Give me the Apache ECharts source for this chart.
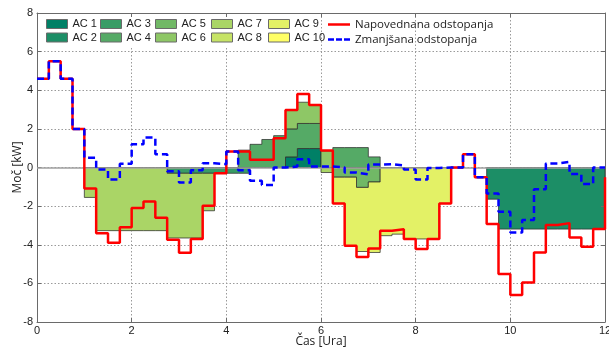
<!DOCTYPE html>
<html>
<head>
<meta charset="utf-8">
<script src="https://cdn.jsdelivr.net/npm/echarts@6/dist/echarts.min.js"></script>
<style>html,body{margin:0;padding:0;background:#fff}#c{width:609px;height:348px}</style>
</head>
<body>
<div id="c"></div>
<script>
// ---------- DATA ----------
const stepHours = 0.25;                 // one value per quarter hour
const xTickValues = [0, 2, 4, 6, 8, 10, 12];
const yTickValues = [-8, -6, -4, -2, 0, 2, 4, 6, 8];

// Napovednana odstopanja (kW) per quarter hour, last value = end at 12 h
const napovedana = [
  4.6, 5.5, 4.6, 2.0,   -1.09, -3.4, -3.9, -3.1,   -2.1, -1.76, -2.6, -3.74,
  -4.41, -3.7, -1.98, -0.3,   0.83, 0.83, 0.40, 0.40,   1.52, 2.98, 3.8, 3.23,
  0.88, -1.86, -4.05, -4.64,   -4.2, -3.27, -3.2, -3.7,   -4.22, -3.7, -1.86, 0.0,
  0.68, -0.5, -2.93, -5.52,   -6.6, -5.95, -4.4, -2.98,   -2.88, -3.62, -4.1, -3.19,
  -0.5
];
// Zmanjšana odstopanja (kW)
const zmanjsana = [
  4.6, 5.5, 4.6, 2.0,   0.5, -0.1, -0.62, 0.2,   1.21, 1.55, 0.69, -0.2,
  -0.78, -0.14, 0.22, 0.17,   0.83, -0.14, -0.69, -0.9,   0.0, 0.05, 0.43, 0.05,
  0.05, 0.0, -0.26, -0.35,   0.15, 0.17, 0.1, -0.1,   -0.62, -0.02, 0.0, 0.0,
  0.68, -0.5, -1.34, -2.29,   -3.36, -2.72, -1.12, 0.21,   0.29, -0.34, -0.86, 0.0,
  0.0
];

const acNames = ['AC 1','AC 2','AC 3','AC 4','AC 5','AC 6','AC 7','AC 8','AC 9','AC 10'];
const acColors = ['#008066','#1c8e66','#399c66','#55aa66','#71b866','#8ec766','#aad566','#c6e366','#e3f166','#ffff66'];

const ac1 = [0,0,0,0, 0,0,0,0, 0,0,0,0, 0,0,0,0, 0,0,0,0, 0,0.55,0.98,0.98, 0,0,0,0, 0,0,0,0, 0,0,0,0, 0,0,0,0, 0,0,0,0, 0,0,0,0];
const ac2 = [0,0,0,0, 0,0,0,0, 0,0,0,0, 0,0,0,0, 0,0,0,0, 0,0,0,0, 0,0,0,0, 0,0,0,0, 0,0,0,0, 0,0,-1.64,-3.19, -3.19,-3.19,-3.19,-3.19, -3.19,-3.19,-3.19,-3.19];
const ac3 = [0,0,0,0, 0,0,0,0, 0,0,0,-0.3, -0.3,-0.3,-0.3,-0.3, -0.3,-0.3,0,0, 0,0,0,0, 0,0,0,0, 0,0,0,0, 0,0,0,0, 0,0,0,0, 0,0,0,0, 0,0,0,0];
const ac4 = [0,0,0,0, 0,0,0,0, 0,0,0,0, 0,0,0,0, 0,0.9,1.2,1.45, 1.65,1.45,1.3,1.3, 0,1.03,1.03,1.03, 0.55,0,0,0, 0,0,0,0, 0,0,0,0, 0,0,0,0, 0,0,0,0];
const ac5 = [0,0,0,0, 0,0,0,0, 0,0,0,0, 0,0,0,0, 0,0,0,0, 0,0,0,0, 0,-0.5,-0.5,-1.03, -0.75,0,0,0, 0,0,0,0, 0,0,0,0, 0,0,0,0, 0,0,0,0];
const ac6 = [0,0,0,0, 0,0,0,0, 0,0,0,0, 0,0,0,0, 0,0,0,0, 0,0.95,1.1,0.95, 0.86,0,0,0, 0,0,0,0, 0,0,0,0, 0,0,0,0, 0,0,0,0, 0,0,0,0];
const ac7 = [0,0,0,0, -1.55,-3.27,-3.27,-3.27, -3.27,-3.27,-3.27,-3.35, -3.35,-3.35,-1.94,0, 0,0,0,0, 0,0,0,0, -0.26,0,0,0, 0,0,0,0, 0,0,0,0, 0,0,0,0, 0,0,0,0, 0,0,0,0];
const ac8 = [0,0,0,0, 0,0,0,0, 0,0,0,0, 0,0,0,0, 0,0,0,0, 0,0,0,0, 0,0,0,0, 0,0,0,0, 0,0,0,0, 0,0,0,0, 0,0,0,0, 0,0,0,0];
const ac9 = [0,0,0,0, 0,0,0,0, 0,0,0,0, 0,0,0,0, 0,0,0,0, 0,0,0,0, 0,-1.36,-3.55,-3.32, -3.65,-3.53,-3.45,-3.7, -3.7,-3.7,-1.86,0, 0,0,0,0, 0,0,0,0, 0,0,0,0];
const ac10 = [0,0,0,0, 0,0,0,0, 0,0,0,0, 0,0,0,0, 0,0,0,0, 0,0,0,0, 0,0,0,0, 0,0,0,0, 0,0,0,0, 0,0,0,0, 0,0,0,0, 0,0,0,0];
const acValues = [ac1, ac2, ac3, ac4, ac5, ac6, ac7, ac8, ac9, ac10];

// ---------- STACKING (same-sign) ----------
const nQ = ac1.length;
const posAcc = new Array(nQ).fill(0), negAcc = new Array(nQ).fill(0);
const acRanges = acValues.map(vals => vals.map((v, k) => {
  let lo = 0, hi = 0;
  if (v > 0) { lo = posAcc[k]; hi = lo + v; posAcc[k] = hi; }
  else if (v < 0) { hi = negAcc[k]; lo = hi + v; negAcc[k] = lo; }
  return [lo, hi, Math.sign(v)];
}));

function acRenderer(i) {
  return function (params, api) {
    const r = acRanges[i];
    const children = [];
    let k = 0;
    while (k < nQ) {
      if (r[k][2] === 0) { k++; continue; }
      let e = k;
      while (e + 1 < nQ && r[e + 1][2] === r[k][2]) e++;
      const pts = [];
      for (let j = k; j <= e; j++) {
        pts.push(api.coord([j * stepHours, r[j][1]]));
        pts.push(api.coord([(j + 1) * stepHours, r[j][1]]));
      }
      for (let j = e; j >= k; j--) {
        pts.push(api.coord([(j + 1) * stepHours, r[j][0]]));
        pts.push(api.coord([j * stepHours, r[j][0]]));
      }
      children.push({
        type: 'polygon', shape: { points: pts },
        style: { fill: acColors[i], stroke: 'rgba(45,45,45,0.75)', lineWidth: 1 }
      });
      k = e + 1;
    }
    return { type: 'group', children: children };
  };
}

const toSteps = arr => arr.map((v, k) => [k * stepHours, v]);

// ---------- CHART ----------
const chart = echarts.init(document.getElementById('c'), null, { renderer: 'canvas' });
const axisFont = '"Liberation Sans", Arial, sans-serif';
const titleFont = '"Open Sans", sans-serif';

const series = acNames.map((name, i) => ({
  name: name, type: 'custom', data: [[0, 0]], encode: { x: 0, y: 1 },
  renderItem: acRenderer(i), itemStyle: { color: acColors[i] }, z: 2, silent: true, clip: true
}));
series.push({
  name: '_zero', type: 'line', data: [], symbol: 'none', z: 3, silent: true,
  markLine: { silent: true, symbol: ['none', 'none'], label: { show: false },
    lineStyle: { color: '#a0a0a0', type: 'solid', width: 1.5 }, data: [{ yAxis: 0 }] }
});
series.push({
  name: 'Napovednana odstopanja', type: 'line', step: 'end', data: toSteps(napovedana),
  symbol: 'none', showSymbol: false, lineStyle: { color: '#ff0000', width: 2.5 }, itemStyle: { color: '#ff0000' }, z: 5
});
series.push({
  name: 'Zmanjšana odstopanja', type: 'line', step: 'end', data: toSteps(zmanjsana),
  symbol: 'none', showSymbol: false, lineStyle: { color: '#0000ff', width: 2.5, type: [7, 4] }, itemStyle: { color: '#0000ff' }, z: 6
});

const acLegendLeft = [46, 100, 155, 211, 268];
const legends = acLegendLeft.map((left, c) => ({
  data: [acNames[2 * c], acNames[2 * c + 1]], left: left, top: 17.5, orient: 'vertical',
  itemWidth: 21, itemHeight: 9, itemGap: 0.5, padding: 0, icon: 'rect', selectedMode: false,
  itemStyle: { borderColor: '#6a6a6a', borderWidth: 1 },
  textStyle: { fontFamily: axisFont, fontSize: 11, color: '#222', lineHeight: 13 }
}));
legends.push({
  data: [
    { name: 'Napovednana odstopanja', icon: 'path://M0,0h22v2.5h-22z' },
    { name: 'Zmanjšana odstopanja', icon: 'path://M0,0h6v2.5h-6zM8,0h6v2.5h-6zM16,0h6v2.5h-6z' }
  ],
  left: 328, top: 17.5, orient: 'vertical',
  itemWidth: 22, itemHeight: 10, itemGap: 1, padding: 0, selectedMode: false,
  textStyle: { fontFamily: titleFont, fontSize: 11.5, color: '#222', lineHeight: 14 }
});

const axisLineStyle = { color: '#6a6a6a', width: 1 };
chart.setOption({
  animation: false,
  backgroundColor: '#ffffff',
  grid: { left: 37, right: 4, top: 13, bottom: 26, show: false, containLabel: false, outerBoundsMode: 'none' },
  graphic: [{ type: 'rect', left: 38, top: 14, shape: { width: 281, height: 32 }, style: { fill: '#ffffff' }, z: 1, silent: true }],
  legend: legends,
  xAxis: [{
    type: 'value', min: xTickValues[0], max: xTickValues[xTickValues.length - 1], interval: xTickValues[1] - xTickValues[0],
    position: 'bottom', axisLine: { show: true, onZero: false, lineStyle: axisLineStyle },
    axisTick: { show: true, inside: true, length: 4, lineStyle: axisLineStyle },
    axisLabel: { fontFamily: axisFont, fontSize: 11, color: '#222', margin: 3 },
    splitLine: { show: true, lineStyle: { color: '#9a9a9a', type: [1.5, 2], width: 1 } },
    name: 'Čas [Ura]', nameLocation: 'middle', nameGap: 13, nameMoveOverlap: false,
    nameTextStyle: { fontFamily: titleFont, fontSize: 12, color: '#222', verticalAlign: 'top', lineHeight: 14 }
  }, {
    type: 'value', min: xTickValues[0], max: xTickValues[xTickValues.length - 1], interval: xTickValues[1] - xTickValues[0],
    position: 'top', axisLine: { show: true, onZero: false, lineStyle: axisLineStyle }, z: 5,
    axisTick: { show: true, inside: true, length: 4, lineStyle: axisLineStyle },
    axisLabel: { show: false }, splitLine: { show: false }
  }],
  yAxis: [{
    type: 'value', min: yTickValues[0], max: yTickValues[yTickValues.length - 1], interval: yTickValues[1] - yTickValues[0],
    position: 'left', axisLine: { show: true, onZero: false, lineStyle: axisLineStyle },
    axisTick: { show: true, inside: true, length: 4, lineStyle: axisLineStyle },
    axisLabel: { fontFamily: axisFont, fontSize: 11, color: '#222', margin: 4 },
    splitLine: { show: true, lineStyle: { color: '#9a9a9a', type: [1.5, 2], width: 1 } },
    name: 'Moč [kW]', nameLocation: 'middle', nameGap: 13, nameRotate: 90, nameMoveOverlap: false,
    nameTextStyle: { fontFamily: titleFont, fontSize: 12, color: '#222' }
  }, {
    type: 'value', min: yTickValues[0], max: yTickValues[yTickValues.length - 1], interval: yTickValues[1] - yTickValues[0],
    position: 'right', axisLine: { show: true, onZero: false, lineStyle: axisLineStyle }, z: 5,
    axisTick: { show: true, inside: true, length: 4, lineStyle: axisLineStyle },
    axisLabel: { show: false }, splitLine: { show: false }
  }],
  series: series
});
</script>
</body>
</html>
